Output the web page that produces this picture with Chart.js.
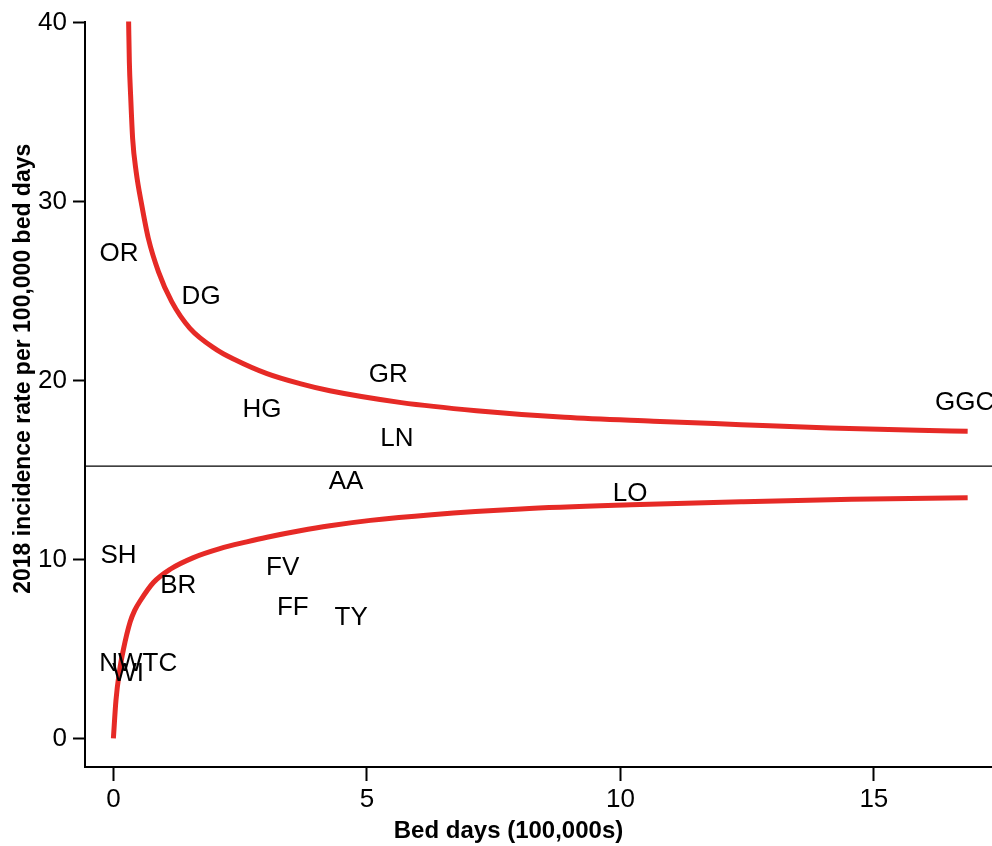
<!DOCTYPE html>
<html>
<head>
<meta charset="utf-8">
<script src="https://cdn.jsdelivr.net/npm/chart.js@4"></script>
<style>
  html, body { margin: 0; padding: 0; background: #fff; }
  #wrap { width: 992px; height: 846px; }
</style>
</head>
<body>
<div id="wrap"><canvas id="chart"></canvas></div>
<script>
// board labels and their observed rates
var boards = ['OR','DG','HG','GR','LN','GGC','AA','LO','SH','FV','BR','FF','TY','NWTC','WI'];
var bedDays = [0.11, 1.73, 2.93, 5.42, 5.59, 16.79, 4.59, 10.19, 0.10, 3.34, 1.28, 3.54, 4.69, 0.49, 0.29];
var rates = [27.07, 24.68, 18.33, 20.31, 16.71, 18.77, 14.32, 13.65, 10.22, 9.55, 8.52, 7.27, 6.74, 4.18, 3.59];

// funnel limits
var upperX = [0.30, 0.315, 0.34, 0.38, 0.45, 0.56, 0.69, 0.89, 1.15, 1.51, 2.04, 2.37, 3.03, 3.68, 4.27, 5.68, 7.16, 8.9, 10.65, 12.38, 14.13, 15.87, 16.85];
var upperY = [40.1, 37.77, 35.92, 33.5, 31.64, 29.79, 27.93, 26.07, 24.4, 22.91, 21.71, 21.2, 20.38, 19.82, 19.42, 18.76, 18.31, 17.94, 17.72, 17.53, 17.34, 17.21, 17.16];
var lowerX = [0, 0.05, 0.12, 0.2, 0.33, 0.42, 0.53, 0.79, 1.12, 1.58, 2.1, 2.63, 3.03, 3.68, 4.27, 5.07, 6.28, 8.04, 10.21, 12.38, 14.56, 16.85];
var lowerY = [0, 2.1, 3.75, 5.0, 6.5, 7.15, 7.69, 8.71, 9.45, 10.1, 10.6, 10.98, 11.24, 11.6, 11.88, 12.18, 12.5, 12.82, 13.05, 13.22, 13.36, 13.44];

var meanRate = 15.21;
var xTicks = [0, 5, 10, 15];
var yTicks = [0, 10, 20, 30, 40];

var xMin = -0.56, xMax = 17.33;
var yMin = -1.6, yMax = 40.05;

function pts(xs, ys) {
  return xs.map(function(x, i){ return {x: x, y: ys[i]}; });
}

var labelPlugin = {
  id: 'boardLabels',
  afterDatasetsDraw: function(chart) {
    var ctx = chart.ctx;
    var meta = chart.getDatasetMeta(3);
    ctx.save();
    ctx.font = '26px "Liberation Sans", Arial, sans-serif';
    ctx.fillStyle = '#000';
    ctx.textAlign = 'center';
    ctx.textBaseline = 'middle';
    meta.data.forEach(function(el, i){
      ctx.fillText(boards[i], el.x, el.y);
    });
    ctx.restore();
  }
};

var tickFont = {family: '"Liberation Sans", Arial, sans-serif', size: 26};

var chart = new Chart(document.getElementById('chart'), {
  type: 'scatter',
  data: {
    datasets: [
      {
        data: pts(upperX, upperY),
        showLine: true,
        borderColor: '#e62a26',
        borderWidth: 5,
        pointRadius: 0,
        cubicInterpolationMode: 'monotone'
      },
      {
        data: pts(lowerX, lowerY),
        showLine: true,
        borderColor: '#e62a26',
        borderWidth: 5,
        pointRadius: 0,
        cubicInterpolationMode: 'monotone'
      },
      {
        data: [{x: xMin, y: meanRate}, {x: xMax, y: meanRate}],
        showLine: true,
        borderColor: '#000',
        borderWidth: 1.3,
        pointRadius: 0
      },
      {
        data: pts(bedDays, rates),
        pointRadius: 0,
        showLine: false
      }
    ]
  },
  options: {
    responsive: true,
    maintainAspectRatio: false,
    animation: false,
    layout: {padding: {top: 20, right: 0, left: 0, bottom: 0}},
    plugins: {legend: {display: false}, tooltip: {enabled: false}},
    scales: {
      x: {
        type: 'linear',
        min: xMin, max: xMax,
        afterBuildTicks: function(s){ s.ticks = xTicks.map(function(v){ return {value: v}; }); },
        afterFit: function(s){ s.height = 79; },
        border: {display: true, color: '#000', width: 2},
        grid: {display: true, drawOnChartArea: false, drawTicks: true, tickLength: 14, tickWidth: 2, tickColor: '#000'},
        ticks: {color: '#000', font: tickFont, padding: 3, maxRotation: 0},
        title: {
          display: true,
          text: 'Bed days (100,000s)         ',
          color: '#000',
          font: {family: '"Liberation Sans", Arial, sans-serif', size: 24, weight: 'bold'},
          padding: {top: 0, bottom: 0}
        }
      },
      y: {
        type: 'linear',
        min: yMin, max: yMax,
        afterBuildTicks: function(s){ s.ticks = yTicks.map(function(v){ return {value: v}; }); },
        afterFit: function(s){ s.width = 85; },
        border: {display: true, color: '#000', width: 2},
        grid: {display: true, drawOnChartArea: false, drawTicks: true, tickLength: 12, tickWidth: 2, tickColor: '#000'},
        ticks: {color: '#000', font: tickFont, padding: 6},
        title: {
          display: true,
          text: '        2018 incidence rate per 100,000 bed days',
          color: '#000',
          font: {family: '"Liberation Sans", Arial, sans-serif', size: 23, weight: 'bold'},
          padding: {top: 10, bottom: 0}
        }
      }
    }
  },
  plugins: [labelPlugin]
});
</script>
</body>
</html>
